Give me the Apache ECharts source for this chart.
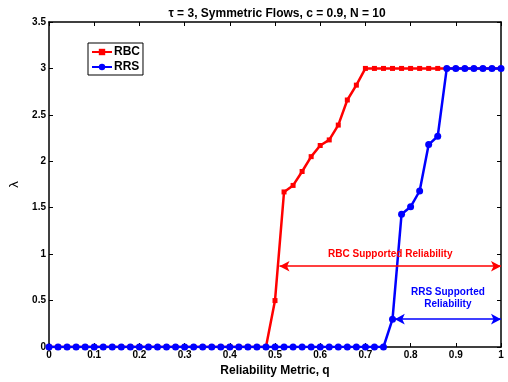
<!DOCTYPE html>
<html>
<head>
<meta charset="utf-8">
<script src="https://cdn.jsdelivr.net/npm/echarts@6/dist/echarts.min.js"></script>
<style>
  html, body { margin: 0; padding: 0; background: #fff; }
  #chart { width: 508px; height: 382px; }
</style>
</head>
<body>
<div id="chart"></div>
<script>
const qValues = [
  0, 0.02, 0.04, 0.06, 0.08, 0.1, 0.12, 0.14, 0.16, 0.18,
  0.2, 0.22, 0.24, 0.26, 0.28, 0.3, 0.32, 0.34, 0.36, 0.38,
  0.4, 0.42, 0.44, 0.46, 0.48, 0.5, 0.52, 0.54, 0.56, 0.58,
  0.6, 0.62, 0.64, 0.66, 0.68, 0.7, 0.72, 0.74, 0.76, 0.78,
  0.8, 0.82, 0.84, 0.86, 0.88, 0.9, 0.92, 0.94, 0.96, 0.98, 1
];
const rbcValues = [
  0, 0, 0, 0, 0, 0, 0, 0, 0, 0,
  0, 0, 0, 0, 0, 0, 0, 0, 0, 0,
  0, 0, 0, 0, 0, 0.5, 1.67, 1.74, 1.89, 2.05,
  2.17, 2.23, 2.39, 2.66, 2.82, 3, 3, 3, 3, 3,
  3, 3, 3, 3, 3, 3, 3, 3, 3, 3, 3
];
const rrsValues = [
  0, 0, 0, 0, 0, 0, 0, 0, 0, 0,
  0, 0, 0, 0, 0, 0, 0, 0, 0, 0,
  0, 0, 0, 0, 0, 0, 0, 0, 0, 0,
  0, 0, 0, 0, 0, 0, 0, 0, 0.3, 1.43,
  1.51, 1.68, 2.18, 2.27, 3, 3, 3, 3, 3, 3, 3
];
// annotation arrows: [fromQ, toQ, lambda]
const rbcSpan = [0.51, 1, 0.87];
const rrsSpan = [0.765, 1, 0.3];

const fontFamily = 'Liberation Sans, Arial, sans-serif';
const tickFont = { color: '#000', fontSize: 10, fontWeight: 'bold', fontFamily };

const chart = echarts.init(document.getElementById('chart'), null, { renderer: 'canvas' });

const pairs = (vals) => qValues.map((q, i) => [q, vals[i]]);

const spanLine = (span, color, text, distance) => ({
  silent: true,
  symbol: ['arrow', 'arrow'],
  symbolSize: [8, 10],
  lineStyle: { color, width: 1.5, type: 'solid' },
  label: {
    show: true,
    position: 'middle',
    formatter: text,
    color,
    fontSize: 10,
    fontWeight: 'bold',
    fontFamily,
    lineHeight: 12,
    distance
  },
  data: [[{ coord: [span[0], span[2]] }, { coord: [span[1], span[2]] }]]
});

const frameAxis = {
  axisLine: { show: true, onZero: false, lineStyle: { color: '#000', width: 1.5 } },
  axisTick: { show: true, inside: true, length: 4, lineStyle: { color: '#000' } },
  splitLine: { show: false }
};

chart.setOption({
  animation: false,
  backgroundColor: '#fff',
  title: {
    text: 'τ = 3, Symmetric Flows, c = 0.9, N = 10',
    left: 272,
    textAlign: 'center',
    top: 3,
    textStyle: { color: '#000', fontSize: 12, fontWeight: 'bold', fontFamily }
  },
  legend: {
    left: 88,
    top: 43,
    orient: 'vertical',
    itemGap: 3,
    itemWidth: 20,
    itemHeight: 8,
    padding: [3, 3, 2, 3],
    borderColor: '#000',
    borderWidth: 1,
    backgroundColor: '#fff',
    textStyle: { color: '#000', fontSize: 12, fontWeight: 'bold', fontFamily, padding: [0, 0, 0, -3] },
    data: ['RBC', 'RRS']
  },
  grid: { left: 45, right: 7, top: 22, bottom: 32, containLabel: false },
  xAxis: [
    Object.assign({}, frameAxis, {
      type: 'value',
      min: 0,
      max: 1,
      interval: 0.1,
      name: 'Reliability Metric, q',
      nameLocation: 'middle',
      nameGap: 18,
      nameMoveOverlap: false,
      nameTextStyle: { color: '#000', fontSize: 12, fontWeight: 'bold', fontFamily },
      axisLabel: Object.assign({ margin: 3 }, tickFont)
    }),
    Object.assign({}, frameAxis, {
      type: 'value',
      position: 'top',
      min: 0,
      max: 1,
      interval: 0.1,
      axisLabel: { show: false }
    })
  ],
  yAxis: [
    Object.assign({}, frameAxis, {
      type: 'value',
      min: 0,
      max: 3.5,
      interval: 0.5,
      name: 'λ',
      nameLocation: 'middle',
      nameRotate: 90,
      nameGap: 28,
      nameMoveOverlap: false,
      nameTextStyle: { color: '#000', fontSize: 13, fontFamily },
      axisLabel: Object.assign({ margin: 3 }, tickFont)
    }),
    Object.assign({}, frameAxis, {
      type: 'value',
      position: 'right',
      min: 0,
      max: 3.5,
      interval: 0.5,
      axisLabel: { show: false }
    })
  ],
  series: [
    {
      name: 'RBC',
      type: 'line',
      data: pairs(rbcValues),
      symbol: 'rect',
      symbolSize: 5,
      showAllSymbol: true,
      itemStyle: { color: '#ff0000' },
      lineStyle: { color: '#ff0000', width: 2.5 },
      markLine: spanLine(rbcSpan, '#ff0000', 'RBC Supported Reliability', 6),
      z: 2
    },
    {
      name: 'RRS',
      type: 'line',
      data: pairs(rrsValues),
      symbol: 'circle',
      symbolSize: 7,
      showAllSymbol: true,
      itemStyle: { color: '#0000ff' },
      lineStyle: { color: '#0000ff', width: 2.5 },
      markLine: spanLine(rrsSpan, '#0000ff', 'RRS Supported\nReliability', 9),
      z: 3
    }
  ]
});
</script>
</body>
</html>
